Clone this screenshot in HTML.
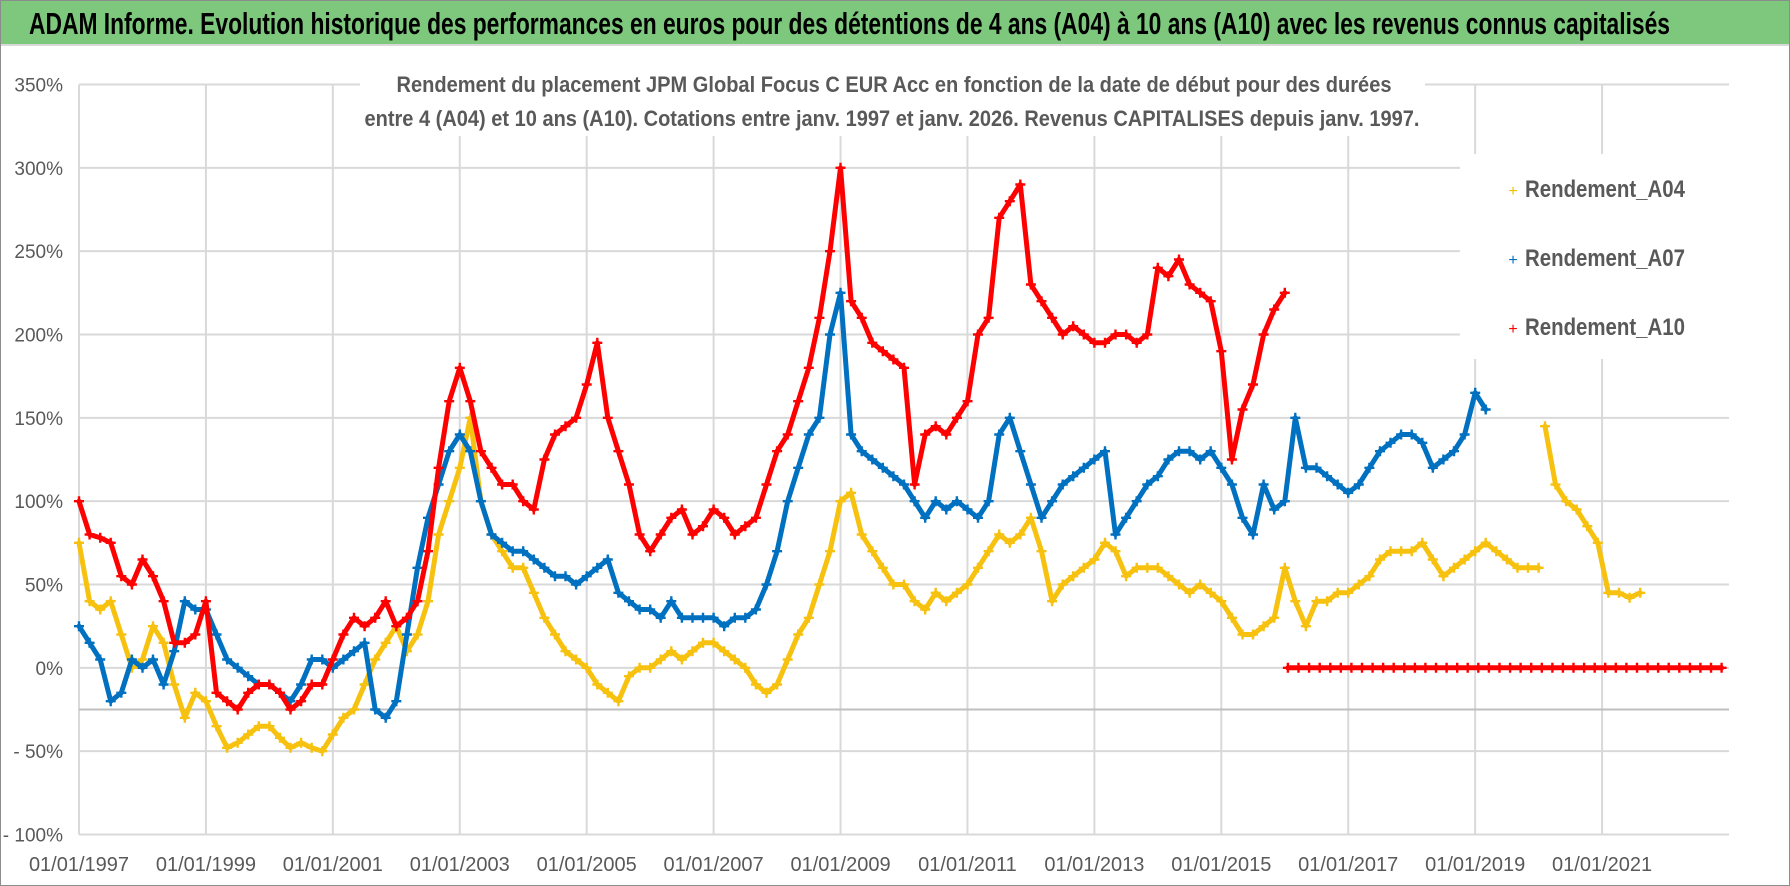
<!DOCTYPE html>
<html><head><meta charset="utf-8"><style>
html,body{margin:0;padding:0;background:#fff}
svg{display:block}
text{font-family:"Liberation Sans Narrow","Liberation Sans",sans-serif}
</style></head><body>
<svg id="chart" width="1790" height="886" viewBox="0 0 1790 886" xmlns="http://www.w3.org/2000/svg">
<rect x="0.5" y="0.5" width="1789" height="885" fill="#fff" stroke="#8c8c8c"/>
<rect x="1" y="1" width="1788" height="43" fill="#7ec87e"/>
<line x1="1" y1="45" x2="1789" y2="45" stroke="#d9d9d9" stroke-width="2"/>
<text x="29" y="34" font-size="31" font-weight="bold" fill="#000" textLength="1641" lengthAdjust="spacingAndGlyphs">ADAM Informe. Evolution historique des performances en euros pour des détentions de 4 ans (A04) à 10 ans (A10) avec les revenus connus capitalisés</text>
<g id="grid"></g>
<g id="yaxis"></g>
<g id="xaxis"></g>
<rect x="360" y="64" width="1065" height="72" fill="#fff"/>
<text x="894" y="92" font-size="22" font-weight="bold" fill="#595959" text-anchor="middle" textLength="995" lengthAdjust="spacingAndGlyphs">Rendement du placement JPM Global Focus C EUR Acc en fonction de la date de début pour des durées</text>
<text x="892" y="126" font-size="22" font-weight="bold" fill="#595959" text-anchor="middle" textLength="1055" lengthAdjust="spacingAndGlyphs">entre 4 (A04) et 10 ans (A10).  Cotations entre janv. 1997 et janv. 2026. Revenus CAPITALISES  depuis janv. 1997.</text>
<g id="series"></g>
<rect x="1460" y="154" width="269" height="205" fill="#fff"/>
<g><text x="1513" y="196" font-size="16" fill="#f5c000" text-anchor="middle">+</text><text x="1525" y="197" font-size="24" font-weight="bold" fill="#595959" textLength="160" lengthAdjust="spacingAndGlyphs">Rendement_A04</text></g>
<g><text x="1513" y="265" font-size="16" fill="#0070c0" text-anchor="middle">+</text><text x="1525" y="266" font-size="24" font-weight="bold" fill="#595959" textLength="160" lengthAdjust="spacingAndGlyphs">Rendement_A07</text></g>
<g><text x="1513" y="334" font-size="16" fill="#ff0000" text-anchor="middle">+</text><text x="1525" y="335" font-size="24" font-weight="bold" fill="#595959" textLength="160" lengthAdjust="spacingAndGlyphs">Rendement_A10</text></g>
</svg>
<script>
const yTicks=[350,300,250,200,150,100,50,0,-50,-100];
const yTickLabels=["350%","300%","250%","200%","150%","100%","50%","0%","- 50%","- 100%"];
const xTicks=[1997,1999,2001,2003,2005,2007,2009,2011,2013,2015,2017,2019,2021];
const xTickLabels=["01/01/1997","01/01/1999","01/01/2001","01/01/2003","01/01/2005","01/01/2007","01/01/2009","01/01/2011","01/01/2013","01/01/2015","01/01/2017","01/01/2019","01/01/2021"];
const step=1/6;
const a04Start=1997;
const a04Values=[75,40,35,40,20,0, 5,25,15,-10,-30,-15, -20,-35,-48,-45,-40,-35, -35,-42,-48,-45,-48,-50, -40,-30,-25,-10,5,15, 25,10,20,40,80,100, 120,150,100,80,70,60, 60,45,30,20,10,5, 0,-10,-15,-20,-5,0, 0,5,10,5,10,15, 15,10,5,0,-10,-15, -10,5,20,30,50,70, 100,105,80,70,60,50, 50,40,35,45,40,45, 50,60,70,80,75,80, 90,70,40,50,55,60, 65,75,70,55,60,60, 60,55,50,45,50,45, 40,30,20,20,25,30, 60,40,25,40,40,45, 45,50,55,65,70,70, 70,75,65,55,60,65, 70,75,70,65,60,60, 60];
const a04bStart=2020.1;
const a04bValues=[145,110,100,95,85,75,45,45,42,45];
const a07Start=1997;
const a07Values=[25,15,5,-20,-15,5, 0,5,-10,10,40,35, 35,20,5,0,-5,-10, -10,-15,-20,-10,5,5, 0,5,10,15,-25,-30, -20,20,60,90,110,130, 140,130,100,80,75,70, 70,65,60,55,55,50, 55,60,65,45,40,35, 35,30,40,30,30,30, 30,25,30,30,35,50, 70,100,120,140,150,200, 225,140,130,125,120,115, 110,100,90,100,95,100, 95,90,100,140,150,130, 110,90,100,110,115,120, 125,130,80,90,100,110, 115,125,130,130,125,130, 120,110,90,80,110,95, 100,150,120,120,115,110, 105,110,120,130,135,140, 140,135,120,125,130,140, 165,155];
const a10Start=1997;
const a10Values=[100,80,78,75,55,50, 65,55,40,15,15,20, 40,-15,-20,-25,-15,-10, -10,-15,-25,-20,-10,-10, 5,20,30,25,30,40, 25,30,40,70,120,160, 180,160,130,120,110,110, 100,95,125,140,145,150, 170,195,150,130,110,80, 70,80,90,95,80,85, 95,90,80,85,90,110, 130,140,160,180,210,250, 300,220,210,195,190,185, 180,110,140,145,140,150, 160,200,210,270,280,290, 230,220,210,200,205,200, 195,195,200,200,195,200, 240,235,245,230,225,220, 190,125,155,170,200,215, 225];
const a10zStart=2016.05;
const a10zValues=[0,0,0,0,0,0,0,0,0,0,0,0,0,0,0,0,0,0,0,0,0,0,0,0,0,0,0,0,0,0,0,0,0,0,0,0,0,0,0,0,0,0];

const NS="http://www.w3.org/2000/svg";
const X0=79,X1=1729,Y0=834.5,Y1=84.5,XMIN=1997,XMAX=2023,YMIN=-100,YMAX=350;
function xs(v){return X0+(v-XMIN)/(XMAX-XMIN)*(X1-X0);}
function ys(v){return Y0-(v-YMIN)/(YMAX-YMIN)*(Y0-Y1);}
function mk(tag,attrs,parent){const e=document.createElementNS(NS,tag);for(const k in attrs)e.setAttribute(k,attrs[k]);parent.appendChild(e);return e;}
const grid=document.getElementById('grid'),yax=document.getElementById('yaxis'),xax=document.getElementById('xaxis'),ser=document.getElementById('series');
yTicks.forEach((t,i)=>{
  const l=mk('line',{x1:X0,x2:X1,y1:ys(t),y2:ys(t),stroke:'#d9d9d9','stroke-width':2},grid);
  
  
  const tx=mk('text',{x:63,y:ys(t)+7,'font-size':19,fill:'#595959','text-anchor':'end'},yax);
  tx.textContent=yTickLabels[i];
  
  
});
xTicks.forEach((t,i)=>{
  const l=mk('line',{x1:xs(t),x2:xs(t),y1:Y1,y2:Y0,stroke:'#d9d9d9','stroke-width':2},grid);
  
  
  const tx=mk('text',{x:xs(t),y:871,'font-size':20,fill:'#595959','text-anchor':'middle'},xax);
  tx.textContent=xTickLabels[i];
  
  
});
const ax=mk('line',{x1:X0,x2:X1,y1:ys(-25),y2:ys(-25),stroke:'#bfbfbf','stroke-width':2},grid);


function draw(start,vals,color,name){
  const g=mk('g',{},ser);
  
  
  const pts=vals.map((v,i)=>[xs(start+i*step),ys(v)]);
  const pl=mk('polyline',{points:pts.map(p=>p[0].toFixed(1)+','+p[1].toFixed(1)).join(' '),fill:'none',stroke:color,'stroke-width':5,'stroke-linejoin':'round','stroke-linecap':'round'},g);
  
  
  let d='';
  pts.forEach(p=>{d+=`M${(p[0]-5).toFixed(1)} ${p[1].toFixed(1)}h10M${p[0].toFixed(1)} ${(p[1]-5).toFixed(1)}v10`;});
  const m=mk('path',{d:d,stroke:color,'stroke-width':2.4,fill:'none'},g);
  
  
}
draw(a04Start,a04Values,'#f7c10f','series-a04');
draw(a04bStart,a04bValues,'#f7c10f','series-a04-late');
draw(a07Start,a07Values,'#0070c0','series-a07');
draw(a10Start,a10Values,'#ff0000','series-a10');
draw(a10zStart,a10zValues,'#ff0000','series-a10-zero');
</script>
</body></html>
